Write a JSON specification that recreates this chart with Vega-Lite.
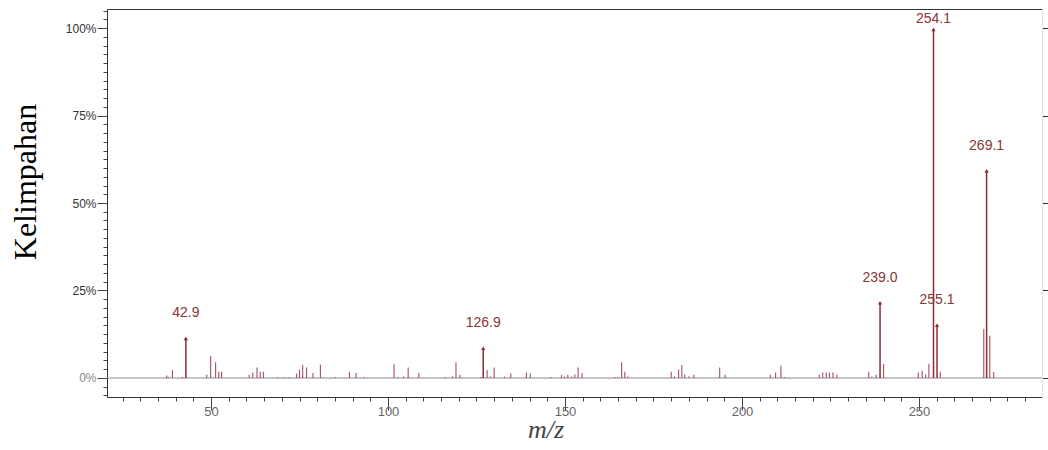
{
  "$schema": "https://vega.github.io/schema/vega-lite/v6.json",
  "width": 935,
  "height": 388,
  "autosize": {"type": "none"},
  "padding": {"left": 107, "top": 9, "right": 6, "bottom": 53},
  "background": "white",
  "config": {"view": {"stroke": null}, "axis": {"grid": false}},
  "datasets": {
    "peaks": [
      {"mz": 37.5, "abundance": 0.7}, {"mz": 37.9, "abundance": 0.3}, {"mz": 39.1, "abundance": 2.3}, {"mz": 41.9, "abundance": 0.3},
      {"mz": 48.8, "abundance": 0.9}, {"mz": 49.9, "abundance": 6.3}, {"mz": 51.3, "abundance": 4.5}, {"mz": 52.2, "abundance": 1.8},
      {"mz": 53.0, "abundance": 1.8}, {"mz": 60.8, "abundance": 0.9}, {"mz": 61.8, "abundance": 1.6}, {"mz": 63.0, "abundance": 3.0},
      {"mz": 63.9, "abundance": 1.8}, {"mz": 64.8, "abundance": 1.8}, {"mz": 68.8, "abundance": 0.2}, {"mz": 70.6, "abundance": 0.2},
      {"mz": 72.1, "abundance": 0.2}, {"mz": 74.2, "abundance": 1.3}, {"mz": 75.0, "abundance": 2.4}, {"mz": 75.9, "abundance": 3.7},
      {"mz": 77.0, "abundance": 3.0}, {"mz": 78.8, "abundance": 1.4}, {"mz": 80.9, "abundance": 3.8}, {"mz": 85.2, "abundance": 0.3},
      {"mz": 89.1, "abundance": 1.8}, {"mz": 91.0, "abundance": 1.4}, {"mz": 93.2, "abundance": 0.3}, {"mz": 101.7, "abundance": 3.9},
      {"mz": 102.9, "abundance": 0.3}, {"mz": 104.4, "abundance": 0.4}, {"mz": 105.7, "abundance": 3.0}, {"mz": 108.7, "abundance": 1.4},
      {"mz": 116.1, "abundance": 0.3}, {"mz": 118.2, "abundance": 0.4}, {"mz": 119.2, "abundance": 4.5}, {"mz": 120.3, "abundance": 0.9},
      {"mz": 126.2, "abundance": 0.3}, {"mz": 128.0, "abundance": 2.3}, {"mz": 128.9, "abundance": 0.4}, {"mz": 130.0, "abundance": 3.0},
      {"mz": 132.9, "abundance": 0.4}, {"mz": 134.7, "abundance": 1.3}, {"mz": 139.1, "abundance": 1.6}, {"mz": 140.2, "abundance": 1.3},
      {"mz": 146.0, "abundance": 0.3}, {"mz": 149.0, "abundance": 0.9}, {"mz": 149.8, "abundance": 0.4}, {"mz": 150.8, "abundance": 0.9},
      {"mz": 151.9, "abundance": 0.4}, {"mz": 152.8, "abundance": 1.0}, {"mz": 153.7, "abundance": 3.0}, {"mz": 154.8, "abundance": 1.4},
      {"mz": 164.0, "abundance": 0.3}, {"mz": 164.9, "abundance": 0.3}, {"mz": 166.0, "abundance": 4.5}, {"mz": 166.9, "abundance": 1.8},
      {"mz": 167.7, "abundance": 0.4}, {"mz": 180.0, "abundance": 1.8}, {"mz": 180.9, "abundance": 0.4}, {"mz": 182.1, "abundance": 2.4},
      {"mz": 183.0, "abundance": 3.7}, {"mz": 183.8, "abundance": 0.9}, {"mz": 185.0, "abundance": 0.4}, {"mz": 186.4, "abundance": 0.9},
      {"mz": 193.7, "abundance": 3.0}, {"mz": 195.2, "abundance": 0.9}, {"mz": 208.0, "abundance": 0.9}, {"mz": 209.5, "abundance": 1.6},
      {"mz": 211.0, "abundance": 3.5}, {"mz": 212.1, "abundance": 0.3}, {"mz": 221.8, "abundance": 0.9}, {"mz": 222.8, "abundance": 1.6},
      {"mz": 223.8, "abundance": 1.6}, {"mz": 224.7, "abundance": 1.6}, {"mz": 225.7, "abundance": 1.6}, {"mz": 226.8, "abundance": 0.9},
      {"mz": 235.8, "abundance": 1.8}, {"mz": 236.7, "abundance": 0.4}, {"mz": 237.9, "abundance": 0.9}, {"mz": 240.0, "abundance": 4.0},
      {"mz": 249.8, "abundance": 1.6}, {"mz": 250.9, "abundance": 2.1}, {"mz": 251.9, "abundance": 1.0}, {"mz": 252.8, "abundance": 4.1},
      {"mz": 256.0, "abundance": 1.8}, {"mz": 268.3, "abundance": 14.0}, {"mz": 270.0, "abundance": 12.1}, {"mz": 271.1, "abundance": 1.7}
    ],
    "labelled": [
      {"mz": 42.9, "abundance": 11.3, "label": "42.9"},
      {"mz": 126.9, "abundance": 8.5, "label": "126.9"},
      {"mz": 239.0, "abundance": 21.5, "label": "239.0"},
      {"mz": 254.1, "abundance": 99.6, "label": "254.1"},
      {"mz": 255.1, "abundance": 15.1, "label": "255.1"},
      {"mz": 269.1, "abundance": 59.2, "label": "269.1"}
    ]
  },
  "resolve": {"axis": {"x": "independent", "y": "independent"}},
  "layer": [
    {
      "data": {"values": [{}]},
      "mark": {"type": "rule", "color": "#8c8c8c", "strokeWidth": 1.2},
      "encoding": {
        "y": {
          "datum": 0,
          "type": "quantitative",
          "scale": {"domain": [-5.43, 105.43], "nice": false, "zero": false},
          "axis": {
            "orient": "right",
            "values": [0, 25, 50, 75, 100],
            "labels": false,
            "title": null,
            "tickSize": 6,
            "tickColor": "#333",
            "domainColor": "#e0e0e0"
          }
        }
      }
    },
    {
      "data": {"name": "peaks"},
      "mark": {"type": "rule", "color": "#a4505e", "strokeWidth": 1.1},
      "encoding": {
        "x": {
          "field": "mz",
          "type": "quantitative",
          "scale": {"domain": [20.62, 284.75], "nice": false, "zero": false},
          "axis": {
            "orient": "bottom",
            "values": [25, 30, 35, 40, 45, 50, 55, 60, 65, 70, 75, 80, 85, 90, 95, 100, 105, 110, 115, 120, 125, 130, 135, 140, 145, 150, 155, 160, 165, 170, 175, 180, 185, 190, 195, 200, 205, 210, 215, 220, 225, 230, 235, 240, 245, 250, 255, 260, 265, 270, 275, 280],
            "labelExpr": "datum.value % 50 === 0 ? datum.value : ''",
            "labelOverlap": false,
            "labelFont": "Liberation Sans",
            "labelFontSize": 13,
            "labelColor": "#666",
            "labelPadding": -5,
            "tickSize": {"condition": {"test": "datum.value % 50 === 0", "value": 13}, "value": 4},
            "tickColor": "#444",
            "domainColor": "#333",
            "title": "m/z",
            "titleFont": "Liberation Serif",
            "titleFontStyle": "italic",
            "titleFontWeight": "normal",
            "titleFontSize": 26,
            "titleColor": "#444",
            "titleX": 438.5,
            "titleY": 40,
            "titleAlign": "center",
            "titleBaseline": "alphabetic"
          }
        },
        "y": {
          "field": "abundance",
          "type": "quantitative",
          "scale": {"domain": [-5.43, 105.43], "nice": false, "zero": false},
          "axis": {
            "orient": "left",
            "values": [-5, -2.5, 0, 2.5, 5, 7.5, 10, 12.5, 15, 17.5, 20, 22.5, 25, 27.5, 30, 32.5, 35, 37.5, 40, 42.5, 45, 47.5, 50, 52.5, 55, 57.5, 60, 62.5, 65, 67.5, 70, 72.5, 75, 77.5, 80, 82.5, 85, 87.5, 90, 92.5, 95, 97.5, 100, 102.5, 105],
            "labelExpr": "(datum.value % 25 === 0 && datum.value >= 0 && datum.value <= 100) ? datum.value + '%' : ''",
            "labelOverlap": false,
            "labelFont": "Liberation Sans",
            "labelFontSize": 12,
            "labelColor": {"condition": {"test": "datum.value === 0", "value": "#888"}, "value": "#333"},
            "labelPadding": 1,
            "tickSize": {"condition": {"test": "datum.value % 25 === 0", "value": 10}, "value": 4},
            "tickColor": "#444",
            "domainColor": "#333",
            "title": "Kelimpahan",
            "titleFont": "Liberation Serif",
            "titleFontWeight": "normal",
            "titleFontSize": 32,
            "titleColor": "#000",
            "titleAngle": -90,
            "titleX": -72,
            "titleY": 172.5,
            "titleAlign": "center",
            "titleBaseline": "alphabetic"
          }
        },
        "y2": {"datum": 0}
      }
    },
    {
      "data": {"name": "labelled"},
      "mark": {"type": "rule", "color": "#8f2b33", "strokeWidth": 1.5},
      "encoding": {
        "x": {
          "field": "mz",
          "type": "quantitative",
          "scale": {"domain": [20.62, 284.75], "nice": false, "zero": false},
          "axis": {"orient": "top", "ticks": false, "labels": false, "title": null, "domainColor": "#333"}
        },
        "y": {
          "field": "abundance",
          "type": "quantitative",
          "scale": {"domain": [-5.43, 105.43], "nice": false, "zero": false},
          "axis": null
        },
        "y2": {"datum": 0}
      }
    },
    {
      "data": {"name": "labelled"},
      "mark": {"type": "point", "shape": "triangle-up", "filled": true, "size": 18, "color": "#8f2b33", "opacity": 1},
      "encoding": {
        "x": {"field": "mz", "type": "quantitative", "scale": {"domain": [20.62, 284.75], "nice": false, "zero": false}, "axis": null},
        "y": {"field": "abundance", "type": "quantitative", "scale": {"domain": [-5.43, 105.43], "nice": false, "zero": false}, "axis": null}
      }
    },
    {
      "data": {"name": "labelled"},
      "transform": [{"filter": "datum.label !== '254.1'"}],
      "mark": {"type": "text", "font": "Liberation Sans", "fontSize": 14, "color": "#8b3535", "baseline": "alphabetic", "align": "center", "dy": -21},
      "encoding": {
        "x": {"field": "mz", "type": "quantitative", "scale": {"domain": [20.62, 284.75], "nice": false, "zero": false}, "axis": null},
        "y": {"field": "abundance", "type": "quantitative", "scale": {"domain": [-5.43, 105.43], "nice": false, "zero": false}, "axis": null},
        "text": {"field": "label", "type": "nominal"}
      }
    },
    {
      "data": {"name": "labelled"},
      "transform": [{"filter": "datum.label === '254.1'"}],
      "mark": {"type": "text", "font": "Liberation Sans", "fontSize": 14, "color": "#8b3535", "baseline": "alphabetic", "align": "center", "dy": -6},
      "encoding": {
        "x": {"field": "mz", "type": "quantitative", "scale": {"domain": [20.62, 284.75], "nice": false, "zero": false}, "axis": null},
        "y": {"field": "abundance", "type": "quantitative", "scale": {"domain": [-5.43, 105.43], "nice": false, "zero": false}, "axis": null},
        "text": {"field": "label", "type": "nominal"}
      }
    }
  ]
}
